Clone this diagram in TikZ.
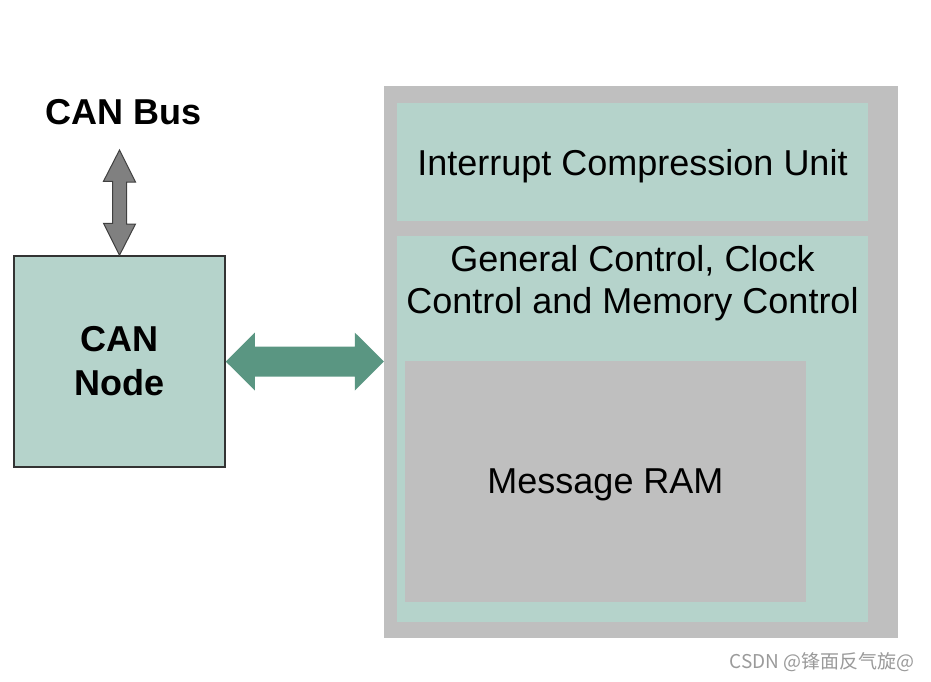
\documentclass[tikz,border=0pt]{standalone}
\usepackage{fontspec}
\setmainfont{Liberation Sans}
\newfontfamily\cjk{Noto Sans CJK SC}
\usepackage{tikz}
\usetikzlibrary{positioning, calc}

\definecolor{unitgreen}{HTML}{B5D3CB}
\definecolor{shellgray}{HTML}{BFBFBF}
\definecolor{linkgreen}{HTML}{5A9682}
\definecolor{busgray}{HTML}{808080}
\definecolor{markgray}{HTML}{9A9A9A}

\begin{document}
\begin{tikzpicture}[
        x=1pt, y=-1pt,
        font=\fontsize{36}{42}\selectfont,
        shell/.style={rectangle, fill=shellgray, minimum width=514pt, minimum height=552pt, inner sep=0pt},
        unit/.style={rectangle, fill=unitgreen, minimum width=471pt, inner sep=0pt, text depth=0pt},
        ram/.style={rectangle, fill=shellgray, minimum width=401pt, minimum height=241pt, inner sep=0pt, text depth=0pt},
        host/.style={rectangle, draw=black!80, line width=1.5pt, fill=unitgreen, minimum width=211pt, minimum height=211pt, align=center, font=\fontsize{36}{44}\selectfont\bfseries},
        busarrow/.style={draw=black!75, line width=1pt, fill=busgray, line join=miter},
        linkarrow/.style={fill=linkgreen}
    ]
        \useasboundingbox (0,0) rectangle (931,681);

        % M_CAN module
        \node[shell] (mcan) at (641,362) {};
        \node[unit, minimum height=118pt] (icu) at (632.5,162) {Interrupt Compression Unit};
        \node[unit, minimum height=386pt] (ctrl) at (632.5,429) {};
        \node[align=center, inner sep=2pt, below=7pt of ctrl.north] (ctrltext) {General Control, Clock\\Control and Memory Control};
        \node[ram] (ram) at (605.5,481.5) {Message RAM};

        % CAN node and bus
        \node[host] (can) at (119.5,361.5) {CAN\\Node};
        \node[font=\fontsize{36}{42}\selectfont\bfseries] (bus) at (124,112) {CAN Bus};
        \coordinate (bustip) at (can.north |- 0,150);

        % bus link
        \draw[busarrow] (bustip) -- ++(16,32) -- ++(-9,0) -- ++(0,42) -- ++(9,0) -- (can.north)
            -- ++(-16,-32) -- ++(9,0) -- ++(0,-42) -- ++(-9,0) -- cycle;

        % link to M_CAN
        \fill[linkarrow] (can.east) -- ++(29,-29) -- ++(0,14) -- ++(100,0) -- ++(0,-14) -- (mcan.west |- can.east)
            -- ++(-29,29) -- ++(0,-14) -- ++(-100,0) -- ++(0,14) -- cycle;

        \node[font=\cjk\fontsize{19}{22}\selectfont, text=markgray] (mark) at (822,662) {CSDN @锋面反气旋@};

    \end{tikzpicture}
\end{document}
